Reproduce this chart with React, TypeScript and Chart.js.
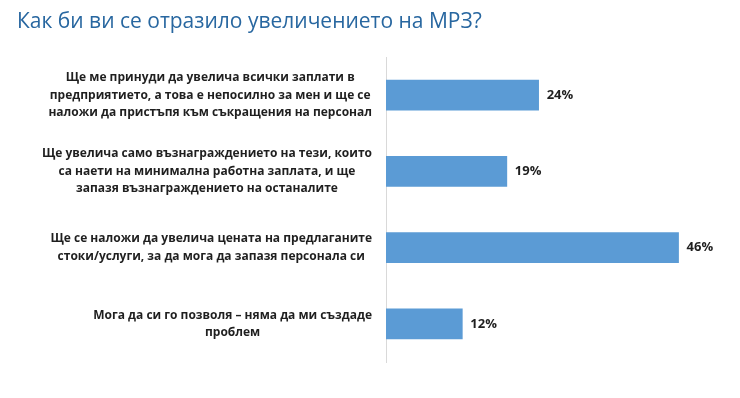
import React, { useEffect, useRef } from "react";
import { Chart, registerables } from "chart.js";

Chart.register(...registerables);

const titleText = "Как би ви се отразило увеличението на МРЗ?";

const categories: string[][] = [
  [
    "Ще ме принуди да увелича всички заплати в",
    "предприятието, а това е непосилно за мен и ще се",
    "наложи да пристъпя към съкращения на персонал",
  ],
  [
    "Ще увелича само възнаграждението на тези, които",
    "са наети на минимална работна заплата, и ще",
    "запазя възнаграждението на останалите",
  ],
  [
    "Ще се наложи да увелича цената на предлаганите",
    "стоки/услуги, за да мога да запазя персонала си",
  ],
  ["Мога да си го позволя – няма да ми създаде", "проблем"],
];

const values = [24, 19, 46, 12];
const valueLabels = ["24%", "19%", "46%", "12%"];

const LABEL_FONT = "bold 12px 'Open Sans', sans-serif";
const VALUE_FONT = "bold 13px 'Open Sans', sans-serif";
const TITLE_FONT = "21px 'Open Sans', sans-serif";

const drawPlugin = {
  id: "customText",
  afterDraw(chart: any) {
    const ctx = chart.ctx as CanvasRenderingContext2D;
    const area = chart.chartArea;
    const yScale = chart.scales.y;
    ctx.save();
    // title
    ctx.font = TITLE_FONT;
    ctx.fillStyle = "#2867a0";
    ctx.textAlign = "left";
    ctx.textBaseline = "middle";
    ctx.fillText(titleText, 17, 22);

    // category labels: centered lines, blocks right-aligned to the axis
    ctx.font = LABEL_FONT;
    ctx.fillStyle = "#1f1f1f";
    ctx.textAlign = "center";
    const lh = 17.5;
    categories.forEach((lines, i) => {
      const yc = yScale.getPixelForTick(i);
      let maxW = 0;
      lines.forEach((l) => {
        maxW = Math.max(maxW, ctx.measureText(l).width);
      });
      const cx = area.left - 14 - maxW / 2;
      const y0 = yc - ((lines.length - 1) * lh) / 2;
      lines.forEach((l, j) => ctx.fillText(l, cx, y0 + j * lh));
    });

    // value labels
    const meta = chart.getDatasetMeta(0);
    ctx.textAlign = "left";
    ctx.font = VALUE_FONT;
    meta.data.forEach((el: any, i: number) => {
      ctx.fillText(valueLabels[i], el.x + 8, el.y);
    });
    ctx.restore();
  },
};

export default function App() {
  const ref = useRef<HTMLCanvasElement | null>(null);
  useEffect(() => {
    if (!ref.current) return;
    const chart = new Chart(ref.current, {
      type: "bar",
      data: {
        labels: categories.map((c) => c.join(" ")),
        datasets: [
          {
            data: values,
            backgroundColor: "#5b9bd5",
            borderWidth: 0,
            barThickness: 30,
          },
        ],
      },
      options: {
        indexAxis: "y",
        animation: false,
        responsive: true,
        maintainAspectRatio: false,
        layout: { padding: { left: 0, right: 36, top: 57, bottom: 36 } },
        plugins: {
          legend: { display: false },
          title: { display: false },
          tooltip: { enabled: false },
        },
        scales: {
          x: { display: false, min: 0, max: 50 },
          y: {
            display: true,
            ticks: { display: false },
            grid: { display: true, color: "transparent", drawTicks: false },
            border: { display: true, color: "#d9d9d9", width: 1 },
            afterFit: (scale: any) => {
              scale.width = 386;
            },
          },
        },
      },
      plugins: [drawPlugin],
    });
    return () => chart.destroy();
  }, []);
  return (
    <div
      style={{
        position: "fixed",
        left: 0,
        top: 0,
        width: 740,
        height: 398,
        background: "#ffffff",
      }}
    >
      <canvas ref={ref} />
    </div>
  );
}
